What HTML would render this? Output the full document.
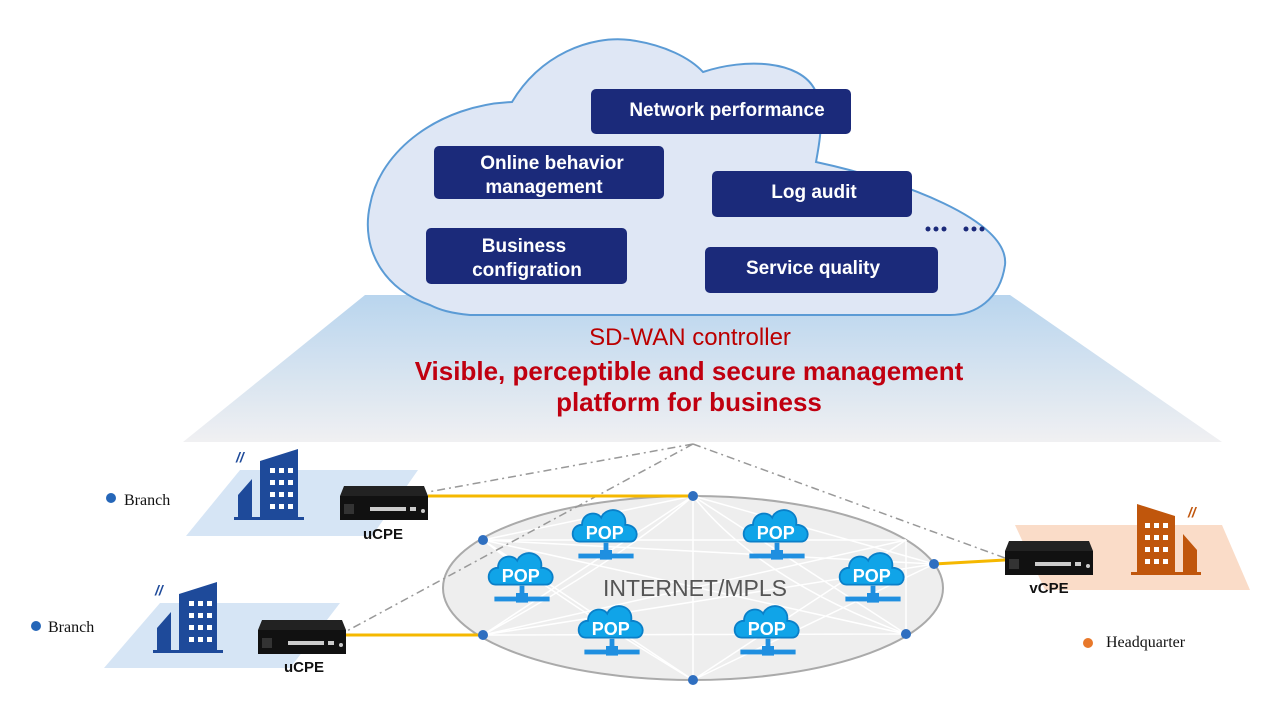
<!DOCTYPE html>
<html><head><meta charset="utf-8"><style>
body{margin:0;background:#fff;}
svg{display:block;}
.b{font-family:"Liberation Sans",sans-serif;font-weight:bold;fill:#fff;}
.s{font-family:"Liberation Serif",serif;fill:#111;font-size:16px;}
</style></head><body>
<svg width="1275" height="703" viewBox="0 0 1275 703" xmlns="http://www.w3.org/2000/svg">
<defs>
<linearGradient id="pf" x1="0" y1="0" x2="0" y2="1">
<stop offset="0" stop-color="#b9d5ee"/><stop offset="1" stop-color="#f0f0f2"/></linearGradient>
<g id="pop">
<path d="M-22,8 C-30,8 -30,-6 -20,-6 C-20,-16 -8,-18 -4,-12 C0,-22 18,-20 16,-6 C28,-6 28,8 20,8 Z" fill="#10a4e8" stroke="#0a7fc8" stroke-width="1.5"/>
<text x="-1" y="6" text-anchor="middle" class="b" font-size="15">POP</text>
<rect x="-2" y="9" width="4" height="10" fill="#1f8fe0"/>
<rect x="-23" y="18" width="46" height="4" fill="#1f8fe0"/>
<rect x="-5" y="15" width="10" height="8" fill="#1f8fe0"/>
</g>
<g id="dev">
<path d="M4,0 L84,0 L88,10 L88,34 L0,34 L0,10 Z" fill="#222"/>
<rect x="0" y="10" width="88" height="24" fill="#111"/>
<rect x="4" y="18" width="10" height="10" fill="#333"/>
<g fill="#ccc"><rect x="30" y="21" width="36" height="4"/><rect x="70" y="21" width="6" height="4"/><circle cx="83" cy="25" r="2"/></g>
</g>
<g id="bld">
<path d="M0,68 L0,46 L14,30 L14,68 Z M22,68 L22,12 L60,0 L60,68 Z M-4,68 L66,68 L66,71 L-4,71 Z"/>
</g>
</defs>
<!-- platform -->
<polygon points="365,295 1010,295 1222,442 183,442" fill="url(#pf)"/>
<!-- cloud -->
<path d="M430,305 C385,290 360,250 370,205 C380,150 440,105 512,102 C540,55 590,35 630,40 C665,45 690,58 703,72 C745,58 800,60 815,90 C825,115 820,140 816,162 C900,180 1010,220 1005,265 C1000,300 975,315 950,315 L470,315 C450,313 440,310 430,305 Z" fill="#dfe7f5" stroke="#5b9bd5" stroke-width="2"/>
<g fill="#1b2a7a">
<rect x="591" y="89" width="260" height="45" rx="5"/>
<rect x="434" y="146" width="230" height="53" rx="5"/>
<rect x="712" y="171" width="200" height="46" rx="5"/>
<rect x="426" y="228" width="201" height="56" rx="5"/>
<rect x="705" y="247" width="233" height="46" rx="5"/>
</g>
<g class="b" font-size="19" text-anchor="middle">
<text x="727" y="116">Network performance</text>
<text x="552" y="169">Online behavior</text>
<text x="544" y="193">management</text>
<text x="814" y="198">Log audit</text>
<text x="524" y="252">Business</text>
<text x="527" y="276">configration</text>
<text x="813" y="274">Service quality</text>
</g>
<g fill="#1b2a7a"><circle cx="928" cy="229" r="2.5"/><circle cx="936" cy="229" r="2.5"/><circle cx="944" cy="229" r="2.5"/><circle cx="966" cy="229" r="2.5"/><circle cx="974" cy="229" r="2.5"/><circle cx="982" cy="229" r="2.5"/></g>
<text x="690" y="345" text-anchor="middle" font-family="Liberation Sans,sans-serif" font-size="24" fill="#b00">SD-WAN controller</text>
<text x="689" y="380" text-anchor="middle" font-family="Liberation Sans,sans-serif" font-weight="bold" font-size="26" fill="#c00010">Visible, perceptible and secure management</text>
<text x="689" y="411" text-anchor="middle" font-family="Liberation Sans,sans-serif" font-weight="bold" font-size="26" fill="#c00010">platform for business</text>
<!-- ground planes -->
<polygon points="240,470 418,470 372,536 186,536" fill="#d6e5f5"/>
<polygon points="160,603 340,603 290,668 104,668" fill="#d6e5f5"/>
<polygon points="1015,525 1222,525 1250,590 1045,590" fill="#fadcc8"/>
<!-- ellipse -->
<ellipse cx="693" cy="588" rx="250" ry="92" fill="#eeeeee" stroke="#aaa" stroke-width="2"/>
<g stroke="#fff" stroke-width="1.5" fill="none">
<path d="M693,496 L483,540 M693,496 L483,635 M693,496 L906,634 M693,496 L934,564 M693,496 L693,680 M693,496 Q620,560 483,635 M693,496 Q760,580 906,634"/>
<path d="M483,540 L906,634 M483,540 L934,564 M483,540 L693,680 M483,635 L934,564 M483,635 L906,540 M906,540 L693,680 M906,540 L483,540 M906,540 L906,634 M483,635 L906,634 M483,540 Q560,600 693,680 M693,680 L934,564"/>
</g>
<!-- dashdot lines -->
<g stroke="#999" stroke-width="1.5" stroke-dasharray="8,4,2,4" fill="none">
<path d="M693,444 L428,492 M693,444 L345,632 M693,444 L1005,558"/>
</g>
<!-- yellow links -->
<g stroke="#f5b800" stroke-width="3"><path d="M428,496 L693,496 M345,635 L483,635 M934,564 L1005,560"/></g>
<g fill="#2f6fc0"><circle cx="693" cy="496" r="5"/><circle cx="483" cy="540" r="5"/><circle cx="483" cy="635" r="5"/><circle cx="906" cy="634" r="5"/><circle cx="934" cy="564" r="5"/><circle cx="693" cy="680" r="5"/></g>
<g transform="translate(606,532) scale(1.2)"><use href="#pop"/></g>
<g transform="translate(522,575) scale(1.2)"><use href="#pop"/></g>
<g transform="translate(777,532) scale(1.2)"><use href="#pop"/></g>
<g transform="translate(873,575) scale(1.2)"><use href="#pop"/></g>
<g transform="translate(612,628) scale(1.2)"><use href="#pop"/></g>
<g transform="translate(768,628) scale(1.2)"><use href="#pop"/></g>
<text x="695" y="596" text-anchor="middle" font-family="Liberation Sans,sans-serif" font-size="23" fill="#555">INTERNET/MPLS</text>
<!-- buildings -->
<g fill="#1e4a9a"><use href="#bld" x="238" y="449"/><use href="#bld" x="157" y="582"/></g>
<g fill="#fff"><g transform="translate(238,449)"><rect x="32" y="19" width="5" height="5"/><rect x="41" y="19" width="5" height="5"/><rect x="50" y="19" width="5" height="5"/><rect x="32" y="31" width="5" height="5"/><rect x="41" y="31" width="5" height="5"/><rect x="50" y="31" width="5" height="5"/><rect x="32" y="43" width="5" height="5"/><rect x="41" y="43" width="5" height="5"/><rect x="50" y="43" width="5" height="5"/><rect x="32" y="55" width="5" height="5"/><rect x="41" y="55" width="5" height="5"/><rect x="50" y="55" width="5" height="5"/></g>
<g transform="translate(157,582)"><rect x="32" y="19" width="5" height="5"/><rect x="41" y="19" width="5" height="5"/><rect x="50" y="19" width="5" height="5"/><rect x="32" y="31" width="5" height="5"/><rect x="41" y="31" width="5" height="5"/><rect x="50" y="31" width="5" height="5"/><rect x="32" y="43" width="5" height="5"/><rect x="41" y="43" width="5" height="5"/><rect x="50" y="43" width="5" height="5"/><rect x="32" y="55" width="5" height="5"/><rect x="41" y="55" width="5" height="5"/><rect x="50" y="55" width="5" height="5"/></g></g>
<g fill="#c0560c" transform="translate(1197,504) scale(-1,1)"><path d="M0,68 L0,46 L14,30 L14,68 Z M22,68 L22,12 L60,0 L60,68 Z M-4,68 L66,68 L66,71 L-4,71 Z"/></g>
<g fill="#fff" transform="translate(1145,504)"><rect x="0" y="19" width="5" height="5"/><rect x="9" y="19" width="5" height="5"/><rect x="18" y="19" width="5" height="5"/><rect x="0" y="31" width="5" height="5"/><rect x="9" y="31" width="5" height="5"/><rect x="18" y="31" width="5" height="5"/><rect x="0" y="43" width="5" height="5"/><rect x="9" y="43" width="5" height="5"/><rect x="18" y="43" width="5" height="5"/><rect x="0" y="55" width="5" height="5"/><rect x="9" y="55" width="5" height="5"/><rect x="18" y="55" width="5" height="5"/></g>
<g font-family="Liberation Sans,sans-serif" font-size="14" font-style="italic" font-weight="bold"><text x="236" y="462" fill="#1e4a9a">//</text><text x="155" y="595" fill="#1e4a9a">//</text><text x="1188" y="517" fill="#c0560c">//</text></g>
<!-- devices -->
<use href="#dev" x="340" y="486"/><use href="#dev" x="258" y="620"/><use href="#dev" x="1005" y="541"/>
<g font-family="Liberation Sans,sans-serif" font-weight="bold" font-size="15" fill="#111" text-anchor="middle">
<text x="383" y="539">uCPE</text><text x="304" y="672">uCPE</text><text x="1049" y="593">vCPE</text></g>
<!-- legends -->
<circle cx="111" cy="498" r="5" fill="#2566b8"/><text x="124" y="505" class="s">Branch</text>
<circle cx="36" cy="626" r="5" fill="#2566b8"/><text x="48" y="632" class="s">Branch</text>
<circle cx="1088" cy="643" r="5" fill="#e8782a"/><text x="1106" y="647" class="s">Headquarter</text>
</svg>
</body></html>
